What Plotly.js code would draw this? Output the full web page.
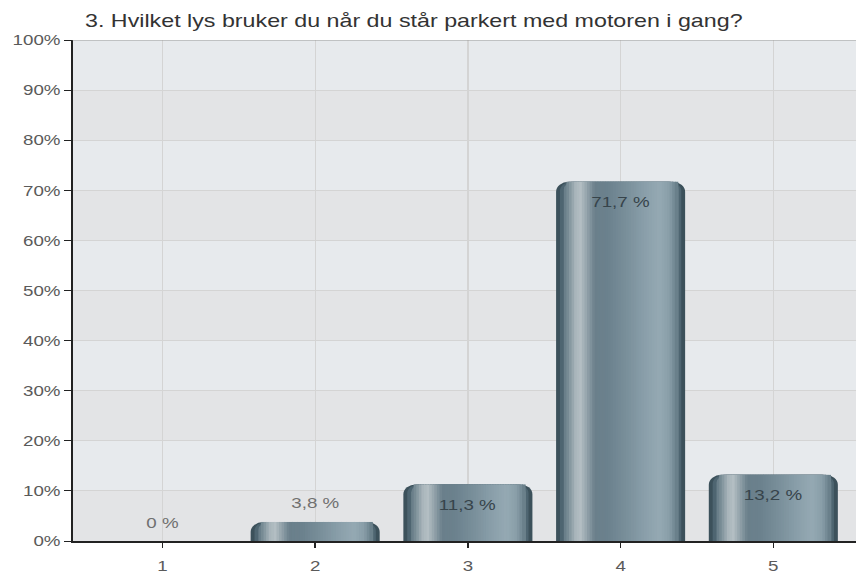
<!DOCTYPE html>
<html>
<head>
<meta charset="utf-8">
<script src="https://cdn.plot.ly/plotly-3.0.1.min.js"></script>
<style>
  html, body { margin: 0; padding: 0; background: #ffffff; overflow: hidden; }
  #chart { width: 685px; height: 575px; transform: scaleX(1.25); transform-origin: 0 0; }
</style>
</head>
<body>
<div id="chart"></div>
<script>
// ---- data ----
const categories = ['1', '2', '3', '4', '5'];
const values = [0, 3.8, 11.3, 71.7, 13.2];
const labels = ['0 %', '3,8 %', '11,3 %', '71,7 %', '13,2 %'];
const yTicks = [0, 10, 20, 30, 40, 50, 60, 70, 80, 90, 100];
const yTickText = ['0%', '10%', '20%', '30%', '40%', '50%', '60%', '70%', '80%', '90%', '100%'];
const titleText = '3. Hvilket lys bruker du når du står parkert med motoren i gang?';

// ---- styling of the cylinder-like bars (fractions of bar width) ----
const BAR_W = 0.845;
const edgeLayers = [
  { f0: 0.00, f1: 1.00, color: '#3c515b', r: 10 },
  { f0: 0.03, f1: 0.97, color: '#4e6571', r: 9 },
  { f0: 0.06, f1: 0.95, color: '#6a7f8a', r: 8 }
];
const stops = [
  [0.00, '#3c515b'], [0.04, '#506773'], [0.10, '#7f929b'], [0.15, '#a9b5bb'],
  [0.19, '#b3bec3'], [0.24, '#93a2aa'], [0.30, '#6a7f8b'], [0.40, '#6b818d'],
  [0.55, '#7a909b'], [0.70, '#8ba0ab'], [0.80, '#95a9b3'], [0.88, '#889da8'],
  [0.93, '#6a808b'], [0.97, '#4c6370'], [1.00, '#3c515b']
];
function hex2rgb(h) { return [1, 3, 5].map(k => parseInt(h.substr(k, 2), 16)); }
function colorAt(f) {
  for (let i = 0; i < stops.length - 1; i++) {
    const [a, ca] = stops[i], [b, cb] = stops[i + 1];
    if (f >= a && f <= b) {
      const t = (f - a) / (b - a);
      const A = hex2rgb(ca), B = hex2rgb(cb);
      return 'rgb(' + A.map((v, k) => Math.round(v + (B[k] - v) * t)).join(',') + ')';
    }
  }
  return stops[stops.length - 1][1];
}
const stripLayers = [];
const S0 = 0.08, S1 = 0.94, N = 43;
for (let i = 0; i < N; i++) {
  const f0 = S0 + (S1 - S0) * i / N, f1 = S0 + (S1 - S0) * (i + 1) / N;
  stripLayers.push({ f0: f0, f1: f1, color: colorAt((f0 + f1) / 2), r: 0 });
}
const layers = edgeLayers.concat(stripLayers);

const traces = layers.map((L, k) => ({
  type: 'bar',
  x: categories,
  y: values,
  width: BAR_W * (L.f1 - L.f0) + (k < edgeLayers.length ? 0 : 0.006),
  offset: -BAR_W / 2 + BAR_W * L.f0,
  marker: { color: L.color, cornerradius: L.r, line: { width: 0 } },
  hoverinfo: 'skip',
  showlegend: false
}));

// background bands
const shapes = [];
for (let i = 0; i < yTicks.length - 1; i++) {
  if (i % 2 === 0) {
    shapes.push({
      type: 'rect', xref: 'paper', yref: 'y', layer: 'below',
      x0: 0, x1: 1, y0: yTicks[i], y1: yTicks[i + 1],
      fillcolor: '#e3e4e6', line: { width: 0 }
    });
  }
}
shapes.push({
  type: 'line', xref: 'paper', yref: 'y', layer: 'above',
  x0: 0, x1: 1, y0: yTicks[yTicks.length - 1], y1: yTicks[yTicks.length - 1],
  line: { color: '#9a9a9a', width: 1 }
});

// value labels (x given as category index)
const annotations = values.map((v, i) => {
  const inside = v >= 10;
  return {
    x: i, y: v, xref: 'x', yref: 'y',
    text: labels[i], showarrow: false,
    yshift: inside ? -20 : 19,
    font: { family: 'Liberation Sans, Arial, sans-serif', size: 15, color: inside ? '#37444b' : '#707070' }
  };
});

const layout = {
  width: 685, height: 575,
  margin: { l: 58, r: 0, t: 40, b: 34 },
  paper_bgcolor: '#ffffff',
  plot_bgcolor: '#e7eaed',
  barmode: 'overlay',
  showlegend: false,
  hovermode: false,
  font: { family: 'Liberation Sans, Arial, sans-serif', color: '#5a5a5a' },
  title: {
    text: titleText,
    font: { family: 'Liberation Sans, Arial, sans-serif', size: 18.6, color: '#333333' },
    xref: 'container', x: 0.0993, xanchor: 'left',
    yref: 'container', y: 1 - 21 / 575, yanchor: 'middle'
  },
  xaxis: {
    type: 'category',
    range: [-0.589, 4.543],
    showgrid: true, gridcolor: '#d4d4d4', gridwidth: 1,
    showline: true, linecolor: '#222222', linewidth: 2,
    ticks: 'outside', ticklen: 5, tickcolor: '#222222', tickwidth: 1.2,
    tickfont: { size: 15, color: '#5a5a5a' },
    ticklabelstandoff: 5,
    zeroline: false, fixedrange: true
  },
  yaxis: {
    range: [0, 100],
    tickmode: 'array',
    tickvals: yTicks,
    ticktext: yTickText,
    showgrid: true, gridcolor: '#d4d4d4', gridwidth: 1,
    showline: true, linecolor: '#222222', linewidth: 1.6,
    ticks: 'outside', ticklen: 5, tickcolor: '#222222', tickwidth: 1,
    tickfont: { size: 15, color: '#5a5a5a' },
    zeroline: false, fixedrange: true
  },
  shapes: shapes,
  annotations: annotations
};

Plotly.newPlot('chart', traces, layout, { staticPlot: true, displayModeBar: false });
</script>
</body>
</html>
